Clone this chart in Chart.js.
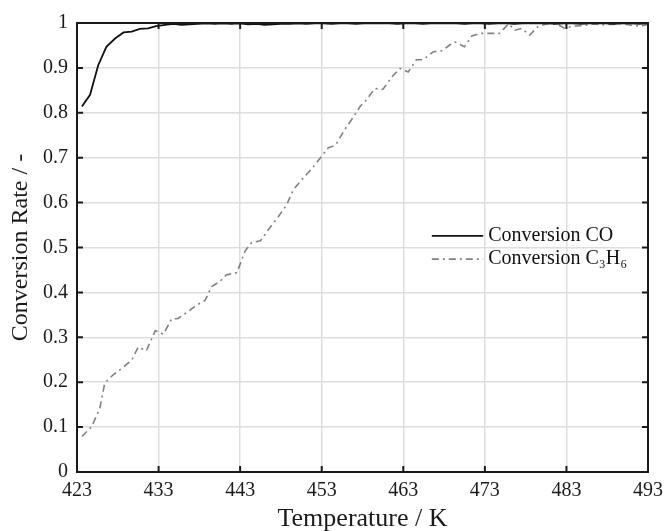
<!DOCTYPE html>
<html>
<head>
<meta charset="utf-8">
<script src="https://cdn.jsdelivr.net/npm/chart.js@4.4.1/dist/chart.umd.min.js"></script>
<style>
html,body{margin:0;padding:0;background:#fff;}
#wrap{width:666px;height:531px;}
</style>
</head>
<body>
<div id="wrap"><canvas id="c" width="666" height="531"></canvas></div>
<script>
const xTicks = [423,433,443,453,463,473,483,493];
const yTicks = [0,0.1,0.2,0.3,0.4,0.5,0.6,0.7,0.8,0.9,1];
const seriesLabels = ['Conversion CO','Conversion C\u2083H\u2086'];
const xTitle = 'Temperature / K';
const yTitle = 'Conversion Rate / -';

const coTemp = [423.6,424.6,425.6,426.6,427.7,428.7,429.7,430.7,431.7,432.7,
  433.8,434.8,435.8,436.8,437.8,438.9,439.9,440.9,441.9,442.9,
  444.0,445.0,446.0,447.0,448.0,449.1,450.1,451.1,452.1,453.1,
  454.2,455.2,456.2,457.2,458.2,459.3,460.3,461.3,462.3,463.3,
  464.4,465.4,466.4,467.4,468.4,469.5,470.5,471.5,472.5,473.5,
  474.6,475.6,476.6,477.6,478.6,479.7,480.7,481.7,482.7,483.7,
  484.8,485.8,486.8,487.8,488.8,489.9,490.9,491.9,492.9];
const coRate = [0.814,0.840,0.906,0.947,0.966,0.979,0.981,0.987,0.988,0.993,
  0.996,0.998,0.996,0.997,0.998,0.999,0.998,0.999,0.998,0.999,
  0.997,0.998,0.996,0.997,0.998,0.998,0.999,0.998,0.999,0.999,
  0.998,0.999,0.999,0.998,0.999,0.999,1.000,0.999,0.998,0.999,
  0.999,0.998,0.999,1.000,0.999,0.999,0.998,0.999,0.999,0.998,
  0.999,0.999,0.998,0.999,1.000,0.999,0.999,0.998,0.999,0.999,
  0.998,0.999,1.000,0.999,0.998,0.999,0.999,0.998,0.999];

const hcTemp = [423.6,424.8,425.8,426.4,427.4,428.5,429.7,430.5,431.5,432.6,
  433.6,434.6,435.4,436.6,437.7,438.7,439.5,440.5,441.3,442.6,
  443.6,444.4,445.5,446.6,447.7,448.7,449.5,450.5,451.8,452.8,
  453.8,454.7,455.8,456.9,457.7,458.5,459.5,460.5,461.6,462.6,
  463.6,464.6,465.4,466.7,467.7,468.7,469.3,470.5,471.4,472.4,
  473.8,474.8,475.9,476.7,477.5,478.5,479.5,480.6,481.8,482.8,
  483.8,485.0,486.3,487.5,488.7,489.7,491.0,492.0,493.0];
const hcRate = [0.079,0.101,0.142,0.198,0.216,0.231,0.249,0.278,0.270,0.315,
  0.307,0.341,0.342,0.357,0.372,0.382,0.413,0.424,0.439,0.444,
  0.492,0.511,0.515,0.543,0.569,0.595,0.628,0.650,0.676,0.699,
  0.722,0.728,0.762,0.791,0.814,0.829,0.854,0.852,0.880,0.899,
  0.891,0.918,0.918,0.936,0.938,0.951,0.958,0.947,0.971,0.977,
  0.977,0.977,0.998,0.984,0.988,0.973,0.992,0.998,0.998,0.988,
  0.993,0.994,0.998,0.996,0.997,0.999,0.995,0.993,0.997];

const FONT = '"Liberation Serif", "Times New Roman", serif';

const framePlugin = {
  id: 'frameTicks',
  afterDatasetsDraw(chart) {
    const ctx = chart.ctx, a = chart.chartArea;
    const xs = chart.scales.x, ys = chart.scales.y;
    ctx.save();
    ctx.strokeStyle = '#1a1a1a';
    ctx.lineWidth = 2;
    const tl = 6;
    ctx.beginPath();
    xTicks.forEach(v => {
      const px = xs.getPixelForValue(v);
      ctx.moveTo(px, a.bottom); ctx.lineTo(px, a.bottom - tl);
      ctx.moveTo(px, a.top); ctx.lineTo(px, a.top + tl);
    });
    yTicks.forEach(v => {
      const py = ys.getPixelForValue(v);
      ctx.moveTo(a.left, py); ctx.lineTo(a.left + tl, py);
      ctx.moveTo(a.right, py); ctx.lineTo(a.right - tl, py);
    });
    ctx.stroke();
    ctx.strokeRect(a.left, a.top, a.right - a.left, a.bottom - a.top);
    // legend
    const lx0 = xs.getPixelForValue(466.5), lx1 = xs.getPixelForValue(472.8);
    const rows = [ys.getPixelForValue(0.526), ys.getPixelForValue(0.474)];
    chart.data.datasets.forEach((ds, i) => {
      const y = rows[i];
      ctx.beginPath();
      ctx.strokeStyle = ds.borderColor;
      ctx.lineWidth = ds.borderWidth;
      ctx.setLineDash(ds.borderDash || []);
      ctx.moveTo(lx0, y); ctx.lineTo(lx1, y);
      ctx.stroke();
      ctx.setLineDash([]);
      ctx.fillStyle = '#111';
      ctx.font = '20px ' + FONT;
      ctx.textBaseline = 'middle';
      ctx.textAlign = 'left';
      ctx.fillText(ds.label, lx1 + 5, y);
    });
    ctx.restore();
  }
};

new Chart(document.getElementById('c'), {
  type: 'line',
  data: {
    datasets: [
      { label: seriesLabels[0], data: coTemp.map((t, i) => ({x: t, y: coRate[i]})),
        borderColor: '#111111', borderWidth: 1.8, pointRadius: 0, tension: 0, fill: false },
      { label: seriesLabels[1], data: hcTemp.map((t, i) => ({x: t, y: hcRate[i]})),
        borderColor: '#808080', borderWidth: 1.6, borderDash: [7, 4, 2, 4], pointRadius: 0, tension: 0, fill: false }
    ]
  },
  options: {
    responsive: false,
    animation: false,
    devicePixelRatio: 1,
    layout: { padding: { top: 23, right: 18, left: 0, bottom: 0 } },
    plugins: { legend: { display: false }, tooltip: { enabled: false } },
    scales: {
      x: {
        type: 'linear', min: 423, max: 493,
        afterBuildTicks: s => { s.ticks = xTicks.map(v => ({value: v})); },
        afterFit: s => { s.height = 59; s.paddingRight = 0; },
        grid: { color: '#dedede', lineWidth: 1.5, drawTicks: false },
        border: { display: false },
        ticks: { color: '#1a1a1a', font: { family: FONT, size: 20 }, padding: 7, maxRotation: 0 },
        title: { display: true, text: xTitle, color: '#1a1a1a', font: { family: FONT, size: 26, lineHeight: 0.9 }, padding: { top: 0, bottom: 0 } }
      },
      y: {
        type: 'linear', min: 0, max: 1,
        afterBuildTicks: s => { s.ticks = yTicks.map(v => ({value: v})); },
        afterFit: s => { s.width = 77; },
        grid: { color: '#dedede', lineWidth: 1.5, drawTicks: false },
        border: { display: false },
        ticks: { color: '#1a1a1a', font: { family: FONT, size: 20 }, padding: 9,
          callback: v => String(Math.round(v * 10) / 10) },
        title: { display: true, text: yTitle, color: '#1a1a1a', font: { family: FONT, size: 24, lineHeight: 1.2 }, padding: { top: 6, bottom: 0 } }
      }
    }
  },
  plugins: [framePlugin]
});
</script>
</body>
</html>
